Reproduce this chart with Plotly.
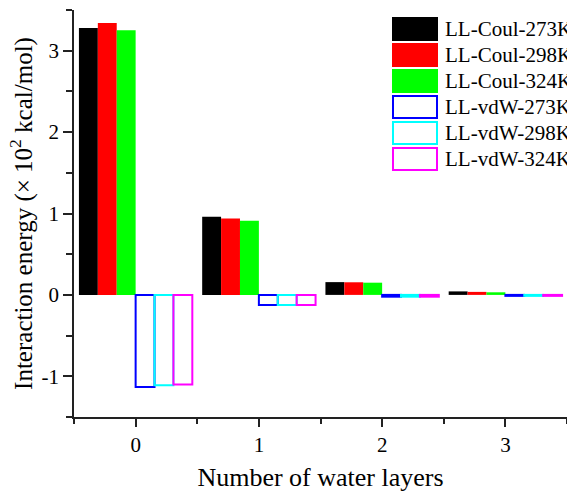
import plotly.graph_objects as go

# Interaction energies (x 10^2 kcal/mol) versus number of water layers
layers = [0, 1, 2, 3]
coul_273 = [3.28, 0.96, 0.157, 0.043]
coul_298 = [3.34, 0.94, 0.155, 0.037]
coul_324 = [3.25, 0.91, 0.150, 0.032]
vdw_273 = [-1.13, -0.125, -0.022, -0.012]
vdw_298 = [-1.11, -0.125, -0.022, -0.012]
vdw_324 = [-1.10, -0.125, -0.022, -0.012]

series_names = ["LL-Coul-273K", "LL-Coul-298K", "LL-Coul-324K",
                "LL-vdW-273K", "LL-vdW-298K", "LL-vdW-324K"]
series_values = [coul_273, coul_298, coul_324, vdw_273, vdw_298, vdw_324]
series_colors = ["#000000", "#ff0000", "#00ff00", "#0000ff", "#00ffff", "#ff00ff"]
series_filled = [True, True, True, False, False, False]

x_ticks = [0, 1, 2, 3]
x_ticktext = ["0", "1", "2", "3"]
y_ticks = [-1, 0, 1, 2, 3]
y_ticktext = ["-1", "0", "1", "2", "3"]

FONT = "Liberation Serif"
W, H = 567, 492
ML, MR, MT, MB = 74, 0, 10, 75

fig = go.Figure()
for name, vals, col, filled in zip(series_names, series_values, series_colors, series_filled):
    fig.add_trace(go.Bar(
        x=layers, y=vals, name=name,
        marker=dict(color=col if filled else "rgba(255,255,255,0)",
                    line=dict(color=col, width=0 if filled else 2)),
        showlegend=False,
    ))

# Custom legend: large swatches with labels
plot_w = W - ML - MR
plot_h = H - MT - MB
def px_to_paper(px, py):
    return (px - ML) / plot_w, (H - MB - py) / plot_h

box_left, box_right = 392, 438
row_top0, row_pitch, box_h = 17, 26, 24
for i, (name, col, filled) in enumerate(zip(series_names, series_colors, series_filled)):
    top = row_top0 + i * row_pitch
    inset = 0 if filled else 1
    x0, y1 = px_to_paper(box_left + inset, top + inset)
    x1, y0 = px_to_paper(box_right - inset, top + box_h - inset)
    fig.add_shape(type="rect", xref="paper", yref="paper",
                  x0=x0, x1=x1, y0=y0, y1=y1,
                  fillcolor=col if filled else "white",
                  line=dict(color=col, width=0 if filled else 2))
    tx, ty = px_to_paper(443, top + box_h / 2)
    fig.add_annotation(xref="paper", yref="paper", x=tx, y=ty,
                       xanchor="left", yanchor="middle", showarrow=False,
                       text=name, font=dict(family=FONT, size=21, color="black"))

axis_col = "#222222"
fig.update_layout(
    width=W, height=H,
    margin=dict(l=ML, r=MR, t=MT, b=MB, pad=0),
    paper_bgcolor="white", plot_bgcolor="white",
    barmode="group", bargap=0.08, bargroupgap=0,
    font=dict(family=FONT, size=20, color="black"),
    xaxis=dict(
        range=[-0.5, 3.5], tickvals=x_ticks, ticktext=x_ticktext,
        showline=True, linecolor=axis_col, linewidth=1.5,
        ticks="outside", ticklen=8, tickwidth=1.5, tickcolor=axis_col,
        minor=dict(ticks="outside", ticklen=5, tickwidth=1.5, tickcolor=axis_col,
                   tick0=-0.5, dtick=1),
        showgrid=False, zeroline=False,
        tickfont=dict(size=21),
        title=dict(text="Number of water layers", font=dict(size=26), standoff=12),
    ),
    xaxis2=dict(
        overlaying="x", side="top", range=[-0.5, 3.5],
        showline=True, linecolor=axis_col, linewidth=1.5,
        ticks="inside", ticklen=4, tickwidth=1.5, tickcolor=axis_col,
        tick0=0, dtick=0.5, showticklabels=False, showgrid=False, zeroline=False,
    ),
    yaxis=dict(
        range=[-1.5, 3.5], tickvals=y_ticks, ticktext=y_ticktext,
        showline=True, linecolor=axis_col, linewidth=1.5,
        ticks="outside", ticklen=9, tickwidth=1.5, tickcolor=axis_col,
        minor=dict(ticks="outside", ticklen=6, tickwidth=1.5, tickcolor=axis_col,
                   tick0=-0.5, dtick=1),
        showgrid=False, zeroline=False,
        tickfont=dict(size=21),
        title=dict(text="Interaction energy (× 10<sup>2</sup> kcal/mol)",
                   font=dict(size=25), standoff=2),
    ),
    yaxis2=dict(
        overlaying="y", side="right", range=[-1.5, 3.5],
        showline=False,
        ticks="inside", ticklen=4, tickwidth=1.5, tickcolor=axis_col,
        tick0=0, dtick=0.5, showticklabels=False, showgrid=False, zeroline=False,
    ),
)

fig.write_html("out.html")
